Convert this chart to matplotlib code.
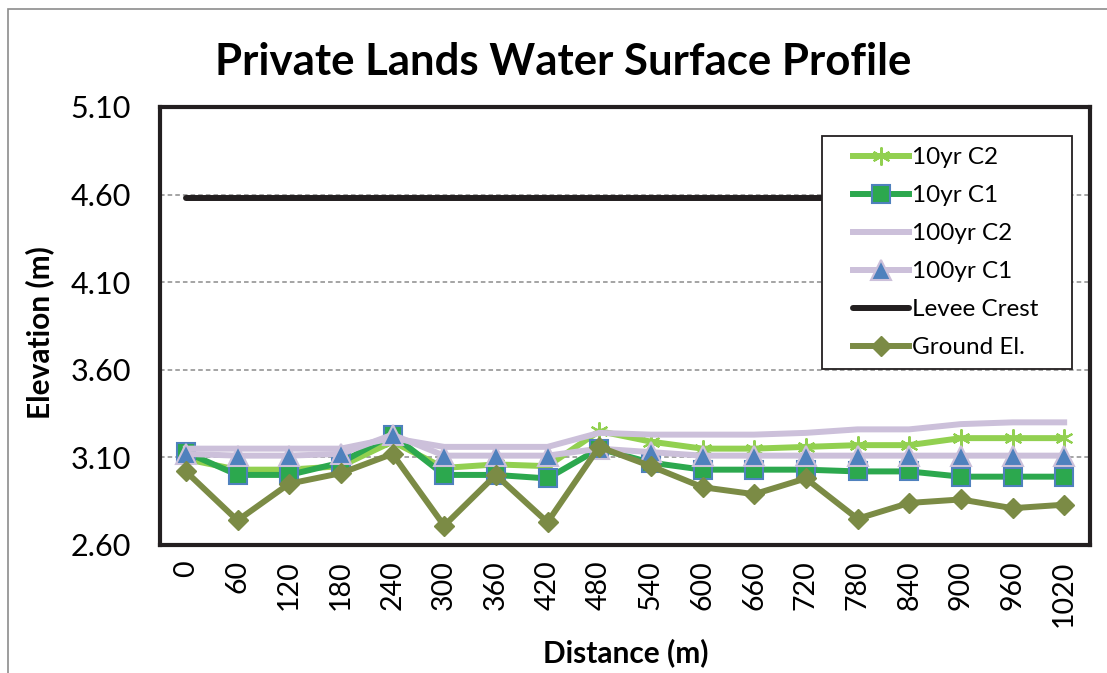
import matplotlib
matplotlib.use("Agg")
import matplotlib.pyplot as plt
from matplotlib.patches import Rectangle

distance = [0, 60, 120, 180, 240, 300, 360, 420, 480, 540, 600, 660, 720, 780, 840, 900, 960, 1020]
yr10_c2 = [3.09, 3.03, 3.03, 3.05, 3.19, 3.04, 3.06, 3.05, 3.25, 3.19, 3.15, 3.15, 3.16, 3.17, 3.17, 3.21, 3.21, 3.21]
yr10_c1 = [3.13, 3.00, 3.00, 3.07, 3.23, 3.00, 3.00, 2.98, 3.15, 3.07, 3.03, 3.03, 3.03, 3.02, 3.02, 2.99, 2.99, 2.99]
yr100_c2 = [3.15, 3.15, 3.15, 3.15, 3.21, 3.16, 3.16, 3.16, 3.24, 3.23, 3.23, 3.23, 3.24, 3.26, 3.26, 3.29, 3.30, 3.30]
yr100_c1 = [3.12, 3.11, 3.11, 3.12, 3.23, 3.11, 3.11, 3.11, 3.15, 3.13, 3.11, 3.11, 3.11, 3.11, 3.11, 3.11, 3.11, 3.11]
levee = [4.58] * 18
ground = [3.02, 2.74, 2.95, 3.01, 3.12, 2.71, 3.00, 2.73, 3.16, 3.05, 2.93, 2.89, 2.98, 2.75, 2.84, 2.86, 2.81, 2.83]
y_ticks = [2.60, 3.10, 3.60, 4.10, 4.60, 5.10]

plt.rcParams['font.family'] = ['Lato', 'DejaVu Sans']

W, H = 1107, 673
fig = plt.figure(figsize=(W / 100, H / 100), dpi=100)
fig.patches.append(Rectangle((8 / W, -0.1), 1.2, 1 - 9 / H + 0.1, transform=fig.transFigure,
                             fill=False, edgecolor='#8c8c8c', lw=1.2))
ax = fig.add_axes([160 / W, 1 - 545 / H, 930 / W, 438 / H])

x = list(range(len(distance)))
ax.plot(x, yr10_c2, color='#92d050', lw=4.3, marker=(6, 2, 0), ms=13, mew=1.5, mec='#92d050', label='10yr C2', zorder=3)
ax.plot(x, yr10_c1, color='#2ca84e', lw=4.3, marker='s', ms=12.5, mfc='#2ca84e', mec='#4f81bd', mew=1.5, label='10yr C1', zorder=4)
ax.plot(x, yr100_c2, color='#ccc0da', lw=4.3, label='100yr C2', zorder=5)
ax.plot(x, yr100_c1, color='#ccc0da', lw=4.3, marker='^', ms=14, mfc='#4f81bd', mec='#ccc0da', mew=1.5, label='100yr C1', zorder=6)
ax.plot(x, levee, color='#231f20', lw=4.3, solid_capstyle='round', label='Levee Crest', zorder=7)
ax.plot(x, ground, color='#7b8b45', lw=4.3, marker='D', ms=10, mfc='#7b8b45', mec='#7b8b45', label='Ground El.', zorder=8)

ax.set_xlim(-0.5, len(distance) - 0.5)
ax.set_ylim(2.60, 5.10)
ax.set_yticks(y_ticks)
ax.set_yticklabels([f"{v:.2f}" for v in y_ticks], fontsize=22)
ax.set_xticks(x)
ax.set_xticklabels([str(d) for d in distance], rotation=90, fontsize=20.5)
ax.tick_params(length=0)
ax.tick_params(axis='x', pad=11)
ax.tick_params(axis='y', pad=21)
ax.grid(axis='y', color='#8c8c8c', ls=(0, (3, 2)), lw=1.1)
ax.set_axisbelow(True)
for s in ax.spines.values():
    s.set_color('#231f20')
    s.set_linewidth(3)

fig.text(40 / W, 1 - 333 / H, 'Elevation (m)', fontsize=21.5, fontweight='bold',
         rotation=90, ha='center', va='center')
fig.text(626 / W, 1 - 653 / H, 'Distance (m)', fontsize=21.5, fontweight='bold',
         ha='center', va='center')
fig.text(563 / W, 1 - 62 / H, 'Private Lands Water Surface Profile', fontsize=31.5, fontweight='bold',
         ha='center', va='center')

# legend box
ax.add_patch(Rectangle(((822 - 160) / 930, 1 - (369 - 107) / 438), 250 / 930, 233 / 438,
                       transform=ax.transAxes, facecolor='white', edgecolor='#231f20',
                       lw=1.3, zorder=19, clip_on=False))
leg = ax.legend(loc='upper left', bbox_to_anchor=((853 - 160) / 930, 1 - (147 - 107) / 438),
                fontsize=17.5, frameon=False, handlelength=2.3, handletextpad=0.12,
                labelspacing=0.70, borderpad=0, borderaxespad=0)
leg.set_zorder(20)

fig.savefig('out.png', dpi=100)
